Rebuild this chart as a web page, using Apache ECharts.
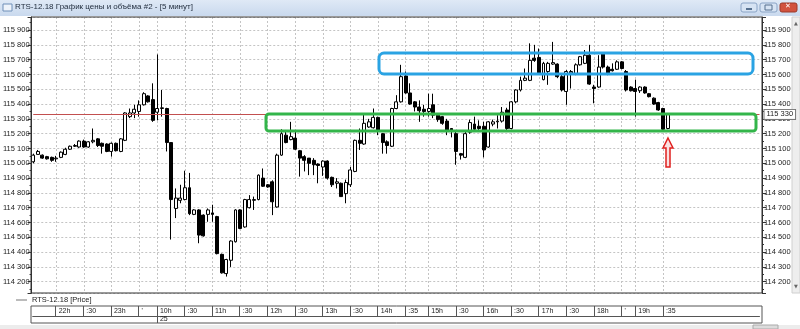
<!DOCTYPE html>
<html><head><meta charset="utf-8">
<script src="https://cdn.jsdelivr.net/npm/echarts@6/dist/echarts.min.js"></script>
<style>html,body{margin:0;padding:0;background:#fff;overflow:hidden}#c{width:800px;height:329px}</style>
</head><body><div id="c"></div><script>
// ---- data ----
const times = ['21:35','21:40','21:45','21:50','21:55','22:00','22:05','22:10','22:15','22:20','22:25','22:30','22:35','22:40','22:45','22:50','22:55',
'23:00','23:05','23:10','23:15','23:20','23:25','23:30','23:35','23:40','23:45',
'10:00','10:05','10:10','10:15','10:20','10:25','10:30','10:35','10:40','10:45','10:50','10:55',
'11:00','11:05','11:10','11:15','11:20','11:25','11:30','11:35','11:40','11:45','11:50','11:55',
'12:00','12:05','12:10','12:15','12:20','12:25','12:30','12:35','12:40','12:45','12:50','12:55',
'13:00','13:05','13:10','13:15','13:20','13:25','13:30','13:35','13:40','13:45','13:50','13:55',
'14:05','14:10','14:15','14:20','14:25','14:30','14:35','14:40','14:45','14:50','14:55',
'15:00','15:05','15:10','15:15','15:20','15:25','15:30','15:35','15:40','15:45','15:50','15:55',
'16:00','16:05','16:10','16:15','16:20','16:25','16:30','16:35','16:40','16:45','16:50','16:55',
'17:00','17:05','17:10','17:15','17:20','17:25','17:30','17:35','17:40','17:45','17:50','17:55',
'18:00','18:05','18:10','18:15','18:20','18:25','18:30','18:35','18:40',
'19:05','19:10','19:15','19:20','19:25','19:30','19:35','19:40'];
const opens = [115010,115060,115055,115045,115040,115030,115040,115060,115095,115115,115110,115150,115110,115145,115165,115135,115130,115080,115135,115080,
115155,115315,115340,115350,115395,115455,115430,115345,115370,115370,115140,114695,114750,114755,114835,114655,114685,114650,114655,114665,
114640,114385,114255,114345,114470,114685,114570,114700,114750,114755,114900,114855,114875,114705,115055,115190,115160,115170,115085,115045,
115035,115020,114995,114975,115015,114905,114865,114865,114795,114855,114945,115155,115130,115245,115240,115310,115200,115145,115115,115370,
115415,115590,115475,115415,115380,115365,115350,115395,115325,115315,115285,115235,115200,115065,115040,115210,115265,115250,115250,115110,
115265,115280,115285,115360,115235,115415,115495,115560,115560,115710,115715,115565,115620,115670,115670,115585,115485,115610,115605,115665,
115675,115730,115515,115515,115740,115650,115635,115635,115685,115620,115515,115505,115490,115515,115470,115440,115410,115370,115235];
const closes = [115055,115080,115035,115030,115020,115035,115075,115095,115115,115120,115150,115110,115145,115155,115120,115115,115080,115135,115085,115165,
115340,115340,115365,115395,115470,115415,115290,115370,115375,115140,114755,114765,114765,114835,114660,114685,114515,114510,114685,114655,
114390,114260,114350,114475,114685,114560,114755,114755,114755,114920,114845,114840,114740,115055,115200,115140,115180,115095,115035,115020,
115000,114990,114985,115015,114900,114855,114875,114775,114870,114955,115155,115135,115270,115280,115310,115220,115140,115120,115370,115415,
115585,115475,115400,115380,115355,115350,115370,115325,115295,115270,115220,115215,115080,115055,115200,115275,115230,115235,115090,115280,
115280,115285,115345,115235,115415,115495,115560,115575,115695,115695,115605,115675,115675,115680,115585,115495,115620,115620,115665,115720,
115730,115535,115505,115650,115650,115605,115625,115685,115640,115495,115490,115485,115515,115475,115450,115400,115360,115230,115330];
const lows = [115000,115060,115030,115025,115010,115010,115035,115055,115090,115110,115105,115105,115105,115135,115110,115065,115075,115045,115080,115075,
115150,115305,115305,115315,115390,115410,115280,115290,115315,115080,114485,114630,114730,114750,114650,114650,114460,114505,114605,114605,
114385,114255,114235,114300,114465,114555,114565,114695,114685,114750,114840,114835,114650,114700,115050,115135,115155,115090,114910,114945,
114920,114920,114865,114915,114890,114840,114830,114775,114730,114840,114940,115090,115125,115240,115235,115190,115065,115065,115110,115365,
115410,115470,115395,115350,115280,115315,115315,115305,115280,115260,115190,115175,114990,115025,115035,115200,115225,115225,115040,115105,
115250,115235,115275,115225,115230,115405,115485,115555,115555,115685,115600,115560,115530,115665,115575,115485,115395,115505,115595,115660,
115670,115530,115405,115510,115640,115595,115620,115630,115635,115485,115485,115315,115475,115470,115445,115395,115355,115225,115230];
const highs = [115065,115090,115060,115050,115045,115050,115080,115105,115120,115130,115155,115160,115150,115235,115170,115140,115135,115140,115140,115170,
115345,115370,115395,115425,115480,115460,115540,115735,115495,115375,115140,114830,114855,114950,114935,114690,114690,114655,114695,114720,
114645,114390,114355,114480,114690,114690,114760,114785,114775,114925,114965,114860,114885,115065,115230,115225,115280,115225,115090,115055,
115035,115035,115000,115020,115020,114910,114900,114870,114890,114975,115160,115235,115335,115300,115370,115315,115205,115155,115375,115460,
115665,115620,115540,115420,115425,115395,115470,115470,115330,115320,115300,115235,115215,115070,115225,115295,115315,115290,115280,115285,
115295,115325,115380,115375,115420,115500,115585,115640,115810,115800,115775,115685,115685,115820,115675,115605,115630,115630,115675,115725,
115765,115800,115530,115730,115745,115660,115675,115695,115690,115630,115520,115565,115520,115520,115475,115445,115415,115375,115335];
const tickIndex = [5,11,17,23,27,33,39,45,51,57,63,69,75,81,86,92,98,104,110,116,122,128,131,137];
const tickText = ['22h',':30','23h','\'','10h',':30','11h',':30','12h',':30','13h',':30','14h',':35','15h',':30','16h',':30','17h',':30','18h','\'','19h',':35'];
const dayIndex = [27];
const dayText = ['25'];
const lastPrice = 115330;
const seriesName = 'RTS-12.18 [Price]';
const windowTitle = 'RTS-12.18 График цены и объёма #2 - [5 минут]';

// ---- chart ----
const chart = echarts.init(document.getElementById('c'), null, {renderer: 'canvas'});
const FONT = 'Liberation Sans';
const fmt = v => String(v).replace(/(\d)(?=(\d{3})$)/, '$1 ');
const yFmt = v => (Math.round(v) % 100 === 0 ? fmt(v) : '');
const candles = times.map((t, i) => [opens[i], closes[i], lows[i], highs[i]]);
const isTick = i => tickIndex.indexOf(i) >= 0;
const isDay = i => dayIndex.indexOf(i) >= 0;
const GL = 32.7, GW = 158 * 4.6;

const yBase = {
  type: 'value', min: 114124, max: 115988, splitNumber: 18, gridIndex: 0,
  axisLine: {show: true, lineStyle: {color: '#333', width: 1}},
  axisTick: {show: true, length: 4, lineStyle: {color: '#333'}},
  minorTick: {show: true, splitNumber: 2, length: 2, lineStyle: {color: '#333'}},
  axisLabel: {formatter: yFmt, fontSize: 7.5, fontFamily: FONT, color: '#222', margin: 2},
  splitLine: {show: false}
};

chart.setOption({
  animation: false,
  backgroundColor: '#fff',
  legend: {
    data: [seriesName], left: 16, top: 296, padding: 0, icon: 'rect', itemWidth: 11, itemHeight: 1, itemGap: 4,
    itemStyle: {color: '#777', borderWidth: 0},
    textStyle: {fontSize: 7.5, fontFamily: FONT, color: '#222'}
  },
  grid: [
    {left: GL, top: 17, width: GW, height: 276},
    {left: GL, top: 306, width: GW, height: 10},
    {left: GL, top: 316, width: GW, height: 7}
  ],
  xAxis: [
    {type: 'category', gridIndex: 0, data: times, boundaryGap: false, max: 158,
     axisLine: {show: false}, axisTick: {show: false}, axisLabel: {show: false},
     splitLine: {show: true, interval: (i) => isTick(i), lineStyle: {color: '#c4c4c4', type: [2, 2], width: 1}}},
    {type: 'category', gridIndex: 1, data: times, boundaryGap: false, max: 158, position: 'bottom',
     axisLine: {show: true, lineStyle: {color: '#555'}}, axisTick: {show: false},
     axisLabel: {show: true, inside: true, interval: (i) => isTick(i), margin: 1, align: 'left',
       formatter: (v, i) => { const k = tickIndex.indexOf(i); return k >= 0 ? tickText[k] : ''; },
       padding: [0, 0, 0, 3], fontSize: 7, fontFamily: FONT, color: '#222'},
     splitLine: {show: true, interval: (i) => isTick(i), lineStyle: {color: '#555', width: 1}}},
    {type: 'category', gridIndex: 2, data: times, boundaryGap: false, max: 158, position: 'bottom',
     axisLine: {show: false}, axisTick: {show: false},
     axisLabel: {show: true, inside: true, interval: (i) => isDay(i), margin: 0, align: 'left',
       formatter: (v, i) => { const k = dayIndex.indexOf(i); return k >= 0 ? dayText[k] : ''; },
       padding: [0, 0, 0, 3], fontSize: 7, fontFamily: FONT, color: '#222'},
     splitLine: {show: true, interval: (i) => isDay(i), lineStyle: {color: '#555', width: 1}}}
  ],
  yAxis: [
    Object.assign({}, yBase, {position: 'left', offset: 1.7,
      splitLine: {show: true, lineStyle: {color: '#c4c4c4', type: [2, 2], width: 1}}}),
    Object.assign({}, yBase, {position: 'right', offset: 2.5}),
    {type: 'value', gridIndex: 1, show: false},
    {type: 'value', gridIndex: 2, show: false}
  ],
  series: [{
    name: seriesName, type: 'candlestick', xAxisIndex: 0, yAxisIndex: 0,
    data: candles, barWidth: 3.4, clip: false,
    itemStyle: {color: '#ffffff', color0: '#000000', borderColor: '#000000', borderColor0: '#000000', borderWidth: 1},
    markLine: {
      silent: true, symbol: ['none', 'none'], animation: false,
      data: [{yAxis: lastPrice}],
      lineStyle: {color: '#c24f4f', width: 1, type: 'solid'},
      label: {show: true, position: 'end', formatter: fmt(lastPrice), distance: 5,
        fontSize: 7.5, fontFamily: FONT, color: '#222', backgroundColor: '#fff',
        borderColor: '#777', borderWidth: 1, padding: [1, 2, 0, 2]}
    }
  }]
});

// ---- window chrome & drawn annotations ----
chart.setOption({
  graphic: [
    {type: 'rect', shape: {x: 0, y: 0, width: 800, height: 16}, z: 100,
     style: {fill: new echarts.graphic.LinearGradient(0, 0, 0, 1, [{offset: 0, color: '#dfe9f6'}, {offset: 1, color: '#c9d9ee'}])}},
    {type: 'rect', shape: {x: 3, y: 4, width: 9, height: 7}, z: 101, style: {fill: '#eef3fa', stroke: '#6f8fb8', lineWidth: 1}},
    {type: 'text', x: 15, y: 3, z: 101, style: {text: windowTitle, fontSize: 8, fontFamily: FONT, fill: '#1e2a3a'}},
    {type: 'rect', shape: {x: 741, y: 3, width: 16, height: 9, r: 2}, z: 101, style: {fill: '#d6e3f3', stroke: '#8aa4c6'}},
    {type: 'rect', shape: {x: 760, y: 3, width: 17, height: 9, r: 2}, z: 101, style: {fill: '#d6e3f3', stroke: '#8aa4c6'}},
    {type: 'rect', shape: {x: 780, y: 3, width: 17, height: 9, r: 2}, z: 101, style: {fill: '#d2533f', stroke: '#9a3a2c'}},
    {type: 'text', x: 785, y: 3, z: 102, style: {text: '✕', fontSize: 7, fill: '#fff', fontFamily: 'DejaVu Sans'}},
    {type: 'rect', shape: {x: 746, y: 8, width: 6, height: 2}, z: 102, style: {fill: '#56708f'}},
    {type: 'rect', shape: {x: 765, y: 5, width: 7, height: 5}, z: 102, style: {fill: 'none', stroke: '#56708f'}},
    // plot frame
    {type: 'rect', shape: {x: 31, y: 17, width: 731, height: 276}, z: 5, silent: true, style: {fill: 'none', stroke: '#333', lineWidth: 1}},
    // time box frame
    {type: 'rect', shape: {x: 31, y: 306, width: 731, height: 17}, z: 5, silent: true, style: {fill: 'none', stroke: '#555', lineWidth: 1}},
    // right scrollbar
    {type: 'rect', shape: {x: 792, y: 17, width: 8, height: 276}, z: 5, style: {fill: '#eeeeee', stroke: '#d0d0d0'}},
    {type: 'text', x: 794, y: 21, z: 6, style: {text: '▲', fontSize: 5, fill: '#666', fontFamily: 'DejaVu Sans'}},
    {type: 'text', x: 794, y: 284, z: 6, style: {text: '▼', fontSize: 5, fill: '#666', fontFamily: 'DejaVu Sans'}},
    // bottom scrollbar
    {type: 'rect', shape: {x: 0, y: 325, width: 800, height: 4}, z: 5, style: {fill: '#ececec'}},
    {type: 'rect', shape: {x: 753, y: 325, width: 25, height: 4}, z: 6, style: {fill: '#dcdcdc', stroke: '#aaa'}},
    // annotations
    {type: 'rect', shape: {x: 379, y: 53, width: 374, height: 21, r: 5}, z: 20, silent: true, style: {fill: 'none', stroke: '#2aa3e3', lineWidth: 3}},
    {type: 'rect', shape: {x: 266, y: 114, width: 490, height: 17, r: 3}, z: 20, silent: true, style: {fill: 'none', stroke: '#33b54a', lineWidth: 3}},
    {type: 'polygon', shape: {points: [[668, 138], [673, 148], [670, 148], [670, 167], [666, 167], [666, 148], [663, 148]]}, z: 20, silent: true,
     style: {fill: '#fbe0e0', stroke: '#e0201f', lineWidth: 1.5}}
  ]
});
</script></body></html>
